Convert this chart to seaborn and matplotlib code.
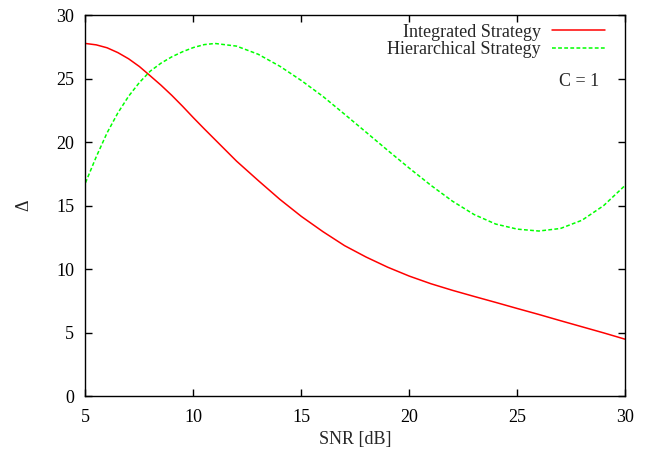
import matplotlib
matplotlib.use("Agg")
import matplotlib.pyplot as plt
import seaborn as sns
import pandas as pd

# SNR grid in dB (finer spacing where the curves bend most)
snr_db = [5, 5.5, 6, 6.5, 7, 7.5, 8, 8.5, 9, 9.5, 10, 10.5, 11, 12, 13,
          14, 15, 16, 17, 18, 19, 20, 21, 22, 23, 24, 25, 26, 27, 28,
          29, 30]

integrated = [27.77, 27.66, 27.43, 27.05, 26.56, 25.95, 25.22, 24.48,
              23.68, 22.82, 21.92, 21.05, 20.2, 18.5, 16.98, 15.5, 14.15,
              12.95, 11.85, 10.95, 10.15, 9.45, 8.85, 8.33, 7.85, 7.38,
              6.9, 6.43, 5.94, 5.46, 4.98, 4.48]

hierarchical = [16.8, 18.85, 20.73, 22.3, 23.62, 24.7, 25.59, 26.22,
                26.72, 27.12, 27.45, 27.68, 27.77, 27.56, 26.92, 25.98,
                24.85, 23.6, 22.2, 20.78, 19.35, 17.95, 16.6, 15.35, 14.3,
                13.55, 13.15, 13.0, 13.2, 13.85, 15.0, 16.6]

series_names = ["Integrated Strategy", "Hierarchical Strategy"]
x_ticks = [5, 10, 15, 20, 25, 30]
y_ticks = [0, 5, 10, 15, 20, 25, 30]

df = pd.DataFrame({
    "SNR": snr_db * 2,
    "Delta": integrated + hierarchical,
    "Strategy": [series_names[0]] * len(snr_db) + [series_names[1]] * len(snr_db),
})

sns.set_style("ticks")
plt.rcParams["font.family"] = ["Liberation Serif", "DejaVu Serif"]

fig = plt.figure(figsize=(6.55, 4.59), dpi=100)
ax = fig.add_axes([0.1305, 0.137, 0.824, 0.830])

sns.lineplot(
    data=df, x="SNR", y="Delta", hue="Strategy", style="Strategy",
    palette={series_names[0]: "#ff0000", series_names[1]: "#00ff00"},
    dashes={series_names[0]: "", series_names[1]: (2.5, 1.5)},
    linewidth=1.1, ax=ax, legend=True, sort=False,
)

ax.set_xlim(5, 30)
ax.set_ylim(0, 30)
ax.set_xticks(x_ticks)
ax.set_yticks(y_ticks)
ax.tick_params(direction="in", length=5, width=1.0, top=True, right=True,
               labelsize=13, colors="black", pad=8)
ax.tick_params(axis="x", pad=9)
for sp in ax.spines.values():
    sp.set_visible(True)
    sp.set_linewidth(1.0)
    sp.set_color("black")

ax.set_xlabel("SNR [dB]", fontsize=13, labelpad=4)
ax.set_ylabel("Δ", fontsize=13, labelpad=17)

handles, labels = ax.get_legend_handles_labels()
ax.legend(handles, labels, loc="upper right", bbox_to_anchor=(0.962, 0.978),
          frameon=False, fontsize=13, markerfirst=False, handlelength=2.9,
          handletextpad=0.65, labelspacing=0.05, borderpad=0, borderaxespad=0)

ax.text(0.952, 0.826, "C = 1", transform=ax.transAxes, ha="right",
        va="center", fontsize=13)

fig.savefig("out.png", dpi=100)
